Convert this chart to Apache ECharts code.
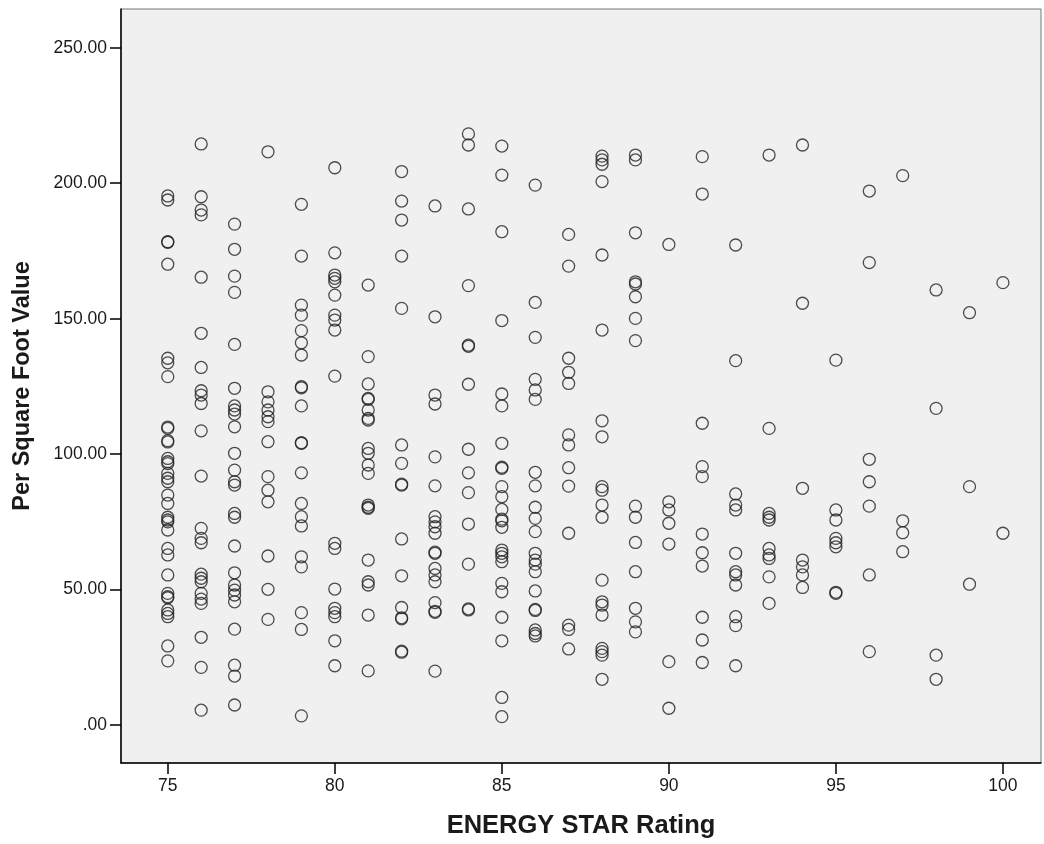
<!DOCTYPE html>
<html>
<head>
<meta charset="utf-8">
<title>Per Square Foot Value by ENERGY STAR Rating</title>
<script src="https://cdn.jsdelivr.net/npm/echarts@6/dist/echarts.min.js"></script>
<style>
  html, body { margin: 0; padding: 0; background: #fff; }
  #chart { width: 1044px; height: 844px; }
</style>
</head>
<body>
<div id="chart"></div>
<script>
// ENERGY STAR rating for each column of points
var ratings = [75, 76, 77, 78, 79, 80, 81, 82, 83, 84, 85, 86, 87, 88, 89, 90, 91, 92, 93, 94, 95, 96, 97, 98, 99, 100];

// per square foot values, one list per rating
var r75 = [195.3, 193.8, 178.4, 178.2, 170.1, 135.4, 133.7, 128.6, 110, 109.5, 105, 104.5, 98.4, 97.2, 96.5, 92.9, 91.1, 89.8, 84.9, 81.8, 76.7, 75.7, 75, 72, 65.2, 62.8, 55.4, 48.6, 47.4, 47, 42.5, 41.2, 40, 29.2, 23.7];
var r76 = [214.5, 195, 190.1, 188.3, 165.3, 144.6, 132, 123.4, 121.8, 118.7, 108.6, 91.9, 72.6, 68.9, 67.3, 55.7, 54.2, 52.9, 48.6, 46.5, 44.9, 32.4, 21.3, 5.5];
var r77 = [184.9, 175.6, 165.7, 159.7, 140.5, 124.3, 117.8, 116.3, 114.8, 110.1, 100.3, 94.1, 89.8, 88.6, 78.1, 76.7, 66.1, 56.2, 51.7, 49.8, 48, 45.5, 35.4, 22.1, 18.1, 7.4];
var r78 = [211.6, 123, 119.3, 116.3, 113.8, 112, 104.6, 91.7, 86.7, 82.4, 62.4, 50.1, 39];
var r79 = [192.2, 173.1, 155, 151.3, 145.6, 141.1, 136.6, 124.9, 124.5, 117.8, 104.2, 104, 93.1, 81.8, 76.9, 73.5, 62.1, 58.4, 41.5, 35.3, 3.4];
var r80 = [205.7, 174.3, 166.1, 164.9, 163.6, 158.7, 151.3, 149.5, 145.8, 128.8, 67.1, 65.2, 50.2, 43.1, 41.5, 40, 31.1, 21.9];
var r81 = [162.4, 136, 125.9, 120.6, 120.2, 116.3, 113.2, 112.6, 102.1, 100.3, 96, 92.9, 81.2, 80.4, 80, 60.9, 52.9, 51.7, 40.6, 20];
var r82 = [204.3, 193.4, 186.4, 173.1, 153.8, 103.4, 96.6, 88.9, 88.6, 68.7, 55.1, 43.4, 39.6, 39.2, 27.3, 26.9];
var r83 = [191.6, 150.7, 121.8, 118.5, 99, 88.3, 76.9, 75, 73.2, 70.8, 63.8, 63.4, 57.8, 55.4, 52.9, 45.2, 42, 41.6, 19.9];
var r84 = [218.2, 214.1, 190.5, 162.2, 140.2, 139.8, 125.8, 101.8, 93.1, 85.8, 74.2, 59.4, 42.9, 42.5];
var r85 = [213.7, 203, 182.1, 149.3, 122.2, 117.8, 104, 95.2, 94.8, 88, 84.3, 79.6, 76, 75.4, 73, 64.6, 63.4, 62.1, 60.3, 52.3, 49.2, 39.8, 31.1, 10.2, 3.1];
var r86 = [199.3, 156, 143.1, 127.6, 123.7, 120.2, 93.3, 88.3, 80.4, 76.3, 71.4, 63.4, 60.9, 59.4, 56.6, 49.5, 42.7, 42.3, 35.1, 33.8, 32.9];
var r87 = [181.1, 169.4, 135.4, 130.2, 126.1, 107.1, 103.4, 95, 88.2, 70.8, 36.9, 35.3, 28.1];
var r88 = [210, 208.6, 207, 200.6, 173.5, 145.8, 112.3, 106.4, 88, 86.7, 81.2, 76.7, 53.5, 45.5, 44.3, 40.6, 28.3, 27.1, 25.8, 16.9];
var r89 = [210.4, 208.6, 181.7, 163.6, 162.8, 158.1, 150.1, 141.9, 80.8, 76.7, 67.4, 56.6, 43.1, 38.1, 34.4];
var r90 = [177.4, 82.4, 79.4, 74.5, 66.8, 23.4, 6.2];
var r91 = [209.8, 196, 111.4, 95.4, 91.7, 70.5, 63.6, 58.7, 39.8, 31.4, 23.1];
var r92 = [177.2, 134.5, 85.3, 81.2, 79.4, 63.4, 56.6, 55.4, 51.7, 40, 36.7, 21.9];
var r93 = [210.4, 109.5, 78.1, 76.7, 75.7, 65.2, 62.8, 61.5, 54.7, 44.9];
var r94 = [214.1, 155.7, 87.4, 60.9, 58.4, 55.4, 50.8];
var r95 = [134.7, 79.4, 75.7, 68.9, 67.3, 65.8, 49, 48.6];
var r96 = [197.1, 170.7, 98.1, 89.8, 80.8, 55.4, 27.1];
var r97 = [202.8, 75.4, 71, 64];
var r98 = [160.6, 116.9, 25.8, 16.9];
var r99 = [152.2, 88, 52];
var r100 = [163.3, 70.8];

var valuesByRating = [r75, r76, r77, r78, r79, r80, r81, r82, r83, r84, r85, r86, r87, r88, r89, r90, r91, r92, r93, r94, r95, r96, r97, r98, r99, r100];

// tick labels
var xTicks = [75, 80, 85, 90, 95, 100];
var yTicks = [0, 50, 100, 150, 200, 250];

var points = [];
ratings.forEach(function (r, i) {
    valuesByRating[i].forEach(function (v) {
        points.push([r, v]);
    });
});

var chart = echarts.init(document.getElementById('chart'), null, { renderer: 'canvas' });

var fontFam = '"Liberation Sans", Arial, sans-serif';

var option = {
    animation: false,
    backgroundColor: '#ffffff',
    textStyle: { fontFamily: fontFam },
    grid: {
        left: 121,
        top: 9,
        right: 3,
        bottom: 81,
        outerBoundsMode: 'none',
        containLabel: false,
        show: true,
        backgroundColor: '#f0f0f0',
        borderColor: '#777777',
        borderWidth: 1
    },
    xAxis: {
        type: 'value',
        min: 73.6,
        max: 101.14,
        name: 'ENERGY STAR Rating',
        nameLocation: 'middle',
        nameGap: 50,
        nameTextStyle: { fontSize: 25.5, fontWeight: 'bold', color: '#1a1a1a', fontFamily: fontFam },
        axisLine: { show: true, onZero: false, lineStyle: { color: '#000', width: 1.5 } },
        axisTick: { show: true, length: 11, customValues: xTicks, lineStyle: { color: '#000', width: 1.5 } },
        axisLabel: { customValues: xTicks, fontSize: 17.5, color: '#1a1a1a', margin: 14, fontFamily: fontFam },
        splitLine: { show: false }
    },
    yAxis: {
        type: 'value',
        min: -14,
        max: 264.3,
        name: 'Per Square Foot Value',
        nameLocation: 'middle',
        nameGap: 86,
        nameRotate: 90,
        nameTextStyle: { fontSize: 23.5, fontWeight: 'bold', color: '#1a1a1a', fontFamily: fontFam },
        axisLine: { show: true, onZero: false, lineStyle: { color: '#000', width: 1.5 } },
        axisTick: { show: true, length: 11, customValues: yTicks, lineStyle: { color: '#000', width: 1.5 } },
        axisLabel: {
            customValues: yTicks,
            fontSize: 17.5,
            color: '#1a1a1a',
            margin: 14,
            fontFamily: fontFam,
            formatter: function (v) {
                return v === 0 ? '.00' : v.toFixed(2);
            }
        },
        splitLine: { show: false }
    },
    series: [
        {
            type: 'scatter',
            data: points,
            symbol: 'circle',
            symbolSize: 12,
            large: false,
            itemStyle: {
                color: 'rgba(0,0,0,0)',
                borderColor: '#222222',
                borderWidth: 1.3
            },
            emphasis: { disabled: true }
        }
    ]
};

chart.setOption(option);
</script>
</body>
</html>
